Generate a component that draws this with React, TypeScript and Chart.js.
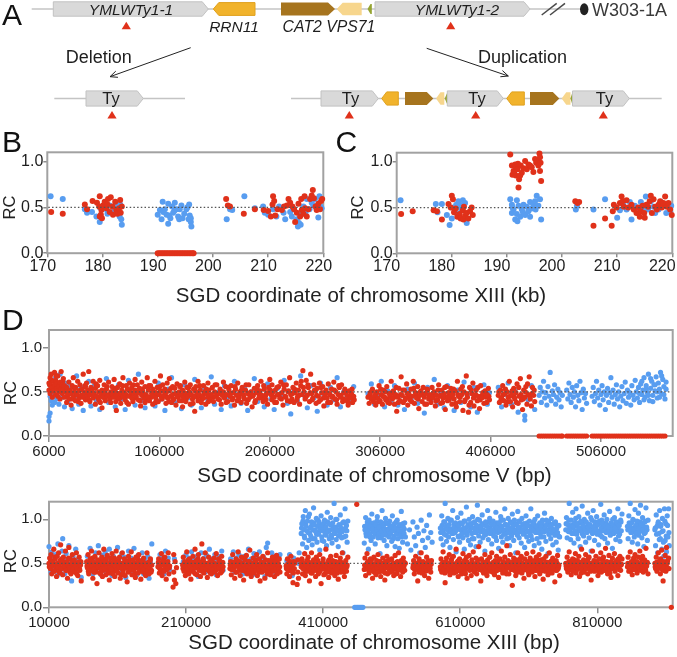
import React, { useEffect, useRef } from 'react';
import { Chart, registerables } from 'chart.js';
Chart.register(...registerables);

const FONT = "'Liberation Sans', Arial, Helvetica, sans-serif";
Chart.defaults.font.family = FONT;
const RED = '#e0311a';
const BLUE = '#589df0';

// ---------- Panel B / C : x in kb, y = RC ----------
const BC_X_TICKS = [170, 180, 190, 200, 210, 220];
const RC_TICKS = [0, 0.5, 1];
const B_BLUE = [170.6,.62,172.8,.59,176.8,.48,177.2,.44,178.1,.45,178.9,.40,179.5,.34,179.5,.50,180.1,.51,180.7,.48,181.3,.52,181.9,.45,182.5,.55,182.8,.50,183.1,.40,183.4,.37,183.5,.31,183.2,.53,182.2,.47,180.9,.43,
190.0,.42,190.4,.47,190.7,.37,190.9,.56,191.0,.45,191.3,.48,191.6,.42,191.9,.32,191.9,.54,192.3,.38,192.6,.51,192.8,.44,193.1,.55,193.4,.48,193.7,.40,193.9,.37,194.0,.48,194.3,.52,194.5,.38,194.8,.43,195.2,.48,195.6,.37,195.7,.53,195.8,.41,196.0,.38,196.0,.34,196.1,.29,195.4,.50,192.1,.41,193.0,.46,
202.5,.37,203.1,.48,203.5,.47,205.7,.62,
207.6,.49,209.1,.51,209.4,.44,210.0,.42,210.9,.48,211.5,.40,212.0,.51,212.8,.44,213.1,.37,214.0,.45,214.3,.40,214.7,.48,215.2,.37,215.4,.29,215.6,.33,215.9,.31,216.1,.43,216.4,.51,217.0,.59,217.5,.48,217.9,.55,218.5,.59,218.8,.48,219.1,.39,219.3,.62,219.5,.51,219.7,.49,216.8,.45,218.2,.52];
const B_RED = [170.7,.45,172.8,.43,
176.8,.53,177.2,.48,178.2,.57,179.0,.55,179.4,.51,179.5,.62,179.7,.42,179.8,.47,180.1,.52,180.4,.56,180.7,.49,181.0,.59,181.3,.45,181.5,.61,181.8,.51,182.3,.56,182.5,.47,182.7,.43,183.0,.49,183.2,.58,183.3,.44,183.5,.51,179.5,.40,181.9,.42,180.9,.53,179.9,.38,
202.4,.59,202.7,.52,203.1,.51,205.6,.43,
207.6,.48,209.2,.47,210.0,.46,210.5,.40,210.8,.53,210.9,.62,211.1,.57,211.3,.41,211.7,.48,212.5,.47,212.9,.51,213.4,.52,213.7,.59,214.0,.55,214.4,.51,214.7,.48,214.9,.34,215.2,.44,215.5,.54,215.8,.40,216.0,.59,216.1,.47,216.4,.43,216.6,.62,216.7,.49,217.0,.40,217.3,.48,217.6,.59,217.9,.63,218.1,.69,218.3,.60,218.6,.51,218.8,.47,219.1,.54,219.4,.48,219.6,.57,219.8,.59];
const B_RED_ZERO_X = [190.0,190.3,190.6,190.9,191.2,191.5,191.8,192.1,192.4,192.7,193.0,193.3,193.6,193.9,194.2,194.5,194.8,195.1,195.4,195.7,196.0,196.3,196.5];
const C_BLUE = [170.7,.58,177.1,.54,177.4,.45,178.2,.54,179.1,.42,179.6,.31,180.0,.38,180.3,.50,180.8,.53,181.2,.57,181.6,.49,181.7,.52,182.0,.58,182.4,.55,182.7,.33,181.0,.43,
190.6,.59,190.9,.53,190.9,.44,191.2,.48,191.5,.37,191.8,.43,191.8,.58,191.9,.35,192.1,.52,192.4,.40,192.7,.48,193.0,.53,193.3,.42,193.6,.51,193.9,.46,194.2,.40,194.2,.56,194.5,.49,194.8,.53,195.1,.57,195.2,.48,195.4,.63,195.7,.52,196.0,.59,196.2,.37,192.9,.45,191.0,.50,
202.5,.48,202.7,.52,205.7,.48,207.8,.59,
210.0,.39,210.5,.47,211.1,.53,211.7,.48,212.3,.56,212.6,.37,213.2,.52,213.8,.44,214.3,.56,214.7,.50,215.2,.62,215.6,.48,216.1,.57,216.6,.51,216.9,.44,217.5,.48,217.9,.56,218.4,.52,218.9,.44,219.3,.51,219.6,.46,219.8,.52];
const C_RED = [170.8,.43,172.9,.46,176.7,.47,177.3,.46,178.2,.37,179.4,.54,179.8,.50,180.0,.63,180.2,.59,180.4,.45,180.7,.49,181.0,.40,181.4,.43,181.6,.38,182.0,.47,182.1,.37,182.2,.51,182.4,.41,182.7,.44,183.0,.38,183.3,.46,183.6,.50,183.8,.42,
190.6,1.08,190.9,.96,191.0,.86,191.2,.90,191.5,.97,191.6,.85,191.7,.93,191.9,.92,192.1,.72,192.2,.81,192.4,.85,192.5,.96,192.7,.88,193.0,.93,193.3,1.01,193.6,.92,193.9,.97,194.2,.96,194.5,.94,194.8,.89,195.1,1.03,195.3,.99,195.5,1.01,195.7,.96,195.9,1.09,196.0,1.05,196.0,.90,196.1,.99,196.2,.79,191.3,.88,192.0,.98,
202.4,.57,202.8,.55,203.1,.56,205.7,.30,207.8,.38,209.0,.30,209.2,.46,209.4,.53,209.9,.50,210.5,.55,210.8,.62,211.0,.57,211.2,.51,211.7,.58,212.0,.50,212.6,.53,213.0,.48,213.5,.44,213.8,.50,214.1,.40,214.3,.46,214.6,.52,214.9,.44,215.0,.39,215.3,.53,215.6,.51,215.9,.57,216.1,.63,216.3,.44,216.6,.59,216.9,.51,217.2,.48,217.5,.53,217.8,.57,218.1,.50,218.4,.55,218.7,.62,219.0,.51,219.3,.55,219.6,.48,219.9,.42];

// ---------- Panel D (top) : chromosome V, pairs of (kb, RC x100) ----------
const D1_X_TICKS = [6000, 106000, 206000, 306000, 406000, 506000];
const D1_RED = [6,52,6,60,7,66,7,48,8,57,8,70,9,55,9,44,10,62,10,51,11,58,11,72,12,47,12,63,13,54,13,59,14,68,14,45,15,56,15,50,16,61,16,42,17,73,17,53,18,48,18,58,19,65,19,52,20,44,20,57,
21,50,22,38,22,55,23,47,24,61,24,42,25,52,26,35,26,48,27,57,28,44,28,66,29,50,30,40,30,55,31,47,32,62,33,43,33,51,34,58,35,37,35,46,36,53,37,70,37,45,38,49,39,41,39,56,40,60,41,44,41,52,42,73,43,47,43,39,44,55,45,50,46,43,46,62,47,48,48,36,48,54,49,45,50,57,51,41,51,50,52,63,53,46,54,32,54,52,55,44,56,58,57,48,57,40,58,53,59,45,60,61,
61,42,62,50,62,38,63,56,64,47,65,64,65,44,66,51,67,29,67,46,68,55,69,42,70,59,70,48,71,37,72,52,73,45,73,66,74,49,75,41,76,57,76,47,77,53,78,36,78,45,79,60,80,50,81,43,81,55,82,39,83,48,84,64,84,52,85,45,86,58,87,41,87,49,88,54,89,34,90,46,90,61,91,50,92,43,93,56,93,38,94,47,95,66,96,52,96,44,97,40,98,57,99,48,100,53,100,36,101,45,102,62,103,49,103,42,104,55,105,39,106,47,107,68,107,51,108,44,109,58,110,46,
111,53,112,37,112,49,113,60,114,43,115,51,115,65,116,45,117,38,118,56,118,47,119,42,120,54,121,35,121,48,122,59,123,44,124,50,124,40,125,57,126,46,127,33,127,52,128,44,129,61,130,48,130,39,131,55,132,45,133,50,134,36,134,58,135,47,136,42,137,53,138,28,138,45,139,56,140,49,141,40,141,62,142,47,143,52,144,38,145,45,146,57,146,43,147,50,148,36,149,48,150,60,150,44,151,52,152,41,153,47,154,55,155,39,156,50,157,45,158,58,159,42,160,48,
161,53,162,36,163,46,164,61,164,50,165,43,166,56,167,47,168,39,169,52,170,45,171,57,172,41,173,49,174,35,175,53,176,46,177,60,178,43,179,50,180,38,181,55,182,47,183,42,184,52,185,37,186,48,187,58,188,44,189,50,190,33,191,46,192,54,193,40,194,49,195,57,196,43,197,51,198,62,199,46,200,39,201,53,202,45,203,48,204,36,205,55,206,64,207,47,208,41,208,58,209,50,210,44,
211,52,212,38,213,47,214,56,215,43,216,61,217,49,218,35,219,53,220,45,221,58,222,40,223,51,224,66,225,47,226,42,227,55,228,38,229,49,230,60,231,44,232,52,233,36,234,57,235,47,236,74,237,50,238,42,239,63,240,46,241,55,242,39,243,70,244,48,245,43,246,58,247,51,248,37,249,54,250,45,251,60,252,41,253,49,254,56,255,34,256,47,257,52,258,43,259,59,260,48,261,38,262,53,263,45,264,61,265,42,266,50,267,36,268,47,269,55,270,44,271,58,272,39,273,49,274,53,275,41,276,46,277,35,278,51,279,43,280,48,281,38,282,45,
295,44,296,37,297,49,298,42,299,53,300,39,301,46,302,35,303,50,304,43,305,57,306,40,307,47,308,36,309,52,310,44,311,41,312,56,313,38,314,48,315,45,316,62,317,42,318,51,319,36,320,47,321,28,322,44,323,54,324,40,325,67,326,46,327,38,328,52,329,43,330,59,331,35,332,48,333,41,334,53,335,45,336,62,337,37,338,49,339,43,340,56,341,31,342,46,343,51,344,39,345,55,346,44,347,48,348,36,349,52,350,42,
351,47,352,38,353,55,354,44,355,50,356,34,357,46,358,41,359,58,360,45,361,37,362,52,363,43,364,48,365,30,366,56,367,40,368,49,369,44,370,54,371,36,372,47,373,42,374,51,375,33,376,62,377,45,378,39,379,53,380,47,381,29,382,50,383,41,384,68,385,44,386,27,387,55,388,38,389,48,390,60,391,34,392,46,393,52,394,40,395,45,396,31,397,57,398,43,399,49,400,37,401,51,402,44,403,47,404,54,405,41,
413,46,414,38,415,52,416,43,417,57,418,40,419,48,420,35,421,50,422,44,423,62,424,39,425,47,426,33,427,54,428,42,429,49,430,59,431,37,432,45,433,65,434,41,435,30,436,52,437,44,438,56,439,36,440,47,441,67,442,42,443,34,444,55,445,46,446,39];
const D1_RED_MORE = [6.5,58,8.5,63,10.5,55,12.5,68,14.5,52,16.5,57,18.5,62,20.5,51,22.5,45,24.5,50,26.5,42,28.5,55,30.5,47,32.5,39,34.5,52,36.5,44,38.5,57,40.5,48,42.5,41,44.5,53,46.5,46,48.5,59,50.5,44,52.5,38,54.5,49,56.5,43,58.5,56,60.5,47,62.5,44,64.5,54,66.5,39,68.5,48,70.5,43,72.5,57,74.5,45,76.5,38,78.5,52,80.5,46,82.5,58,84.5,43,86.5,49,88.5,40,90.5,53,92.5,46,94.5,41,96.5,57,98.5,44,100.5,50,102.5,38,104.5,47,106.5,56,108.5,42,110.5,51,112.5,44,114.5,39,116.5,54,118.5,41,120.5,48,122.5,45,124.5,56,126.5,40,128.5,49,130.5,43,132.5,55,134.5,47,136.5,37,138.5,51,140.5,44,142.5,57,144.5,42,146.5,48,148.5,53,150.5,39,152.5,46,154.5,44,156.5,58,158.5,47,160.5,41,162.5,50,164.5,45,166.5,38,168.5,55,170.5,48,172.5,43,174.5,56,176.5,40,178.5,47,180.5,52,182.5,44,184.5,58,186.5,41,188.5,49,190.5,45,192.5,38,194.5,53,196.5,47,198.5,43,200.5,57,202.5,41,204.5,49,206.5,52,208.5,45,210.5,38,212.5,55,214.5,47,216.5,42,218.5,58,220.5,44,222.5,50,224.5,39,226.5,48,228.5,53,230.5,41,232.5,46,234.5,62,236.5,55,238.5,44,240.5,58,242.5,49,244.5,41,246.5,52,248.5,46,250.5,39,252.5,55,254.5,43,256.5,50,258.5,38,260.5,47,262.5,44,264.5,52,266.5,41,268.5,57,270.5,46,272.5,42,274.5,50,276.5,39,278.5,45,280.5,53,282.5,41,
296.5,46,298.5,51,300.5,43,302.5,48,304.5,39,306.5,53,308.5,45,310.5,50,312.5,42,314.5,37,316.5,49,318.5,44,320.5,55,322.5,38,324.5,47,326.5,52,328.5,41,330.5,48,332.5,44,334.5,39,336.5,54,338.5,46,340.5,42,342.5,50,344.5,47,346.5,36,348.5,53,350.5,45,352.5,43,354.5,49,356.5,40,358.5,52,360.5,46,362.5,38,364.5,55,366.5,44,368.5,41,370.5,49,372.5,53,374.5,37,376.5,47,378.5,44,380.5,56,382.5,39,384.5,48,386.5,35,388.5,52,390.5,43,392.5,47,394.5,55,396.5,41,398.5,46,400.5,50,402.5,38,404.5,45,
413.5,50,415.5,42,417.5,47,419.5,53,421.5,39,423.5,45,425.5,51,427.5,44,429.5,38,431.5,55,433.5,47,435.5,42,437.5,50,439.5,59,441.5,45,443.5,48,445.5,52];
const D1_BLUE = [6,17,6,22,7,26,7,45,8,40,9,35,10,48,11,38,12,66,13,42,15,36,16,70,18,44,20,33,21,60,23,39,25,57,27,31,29,45,31,68,33,36,35,55,37,29,40,47,42,62,44,34,47,57,49,40,52,30,55,50,58,65,60,38,63,46,66,33,69,58,72,42,75,30,78,63,81,47,84,35,87,70,90,40,93,32,96,55,99,45,102,34,105,60,108,42,111,29,114,53,117,66,120,38,123,47,126,31,129,58,132,43,135,35,138,64,141,46,144,32,147,54,150,40,153,67,156,36,159,49,162,30,165,57,168,44,171,34,174,62,177,47,180,37,183,55,186,29,189,50,192,65,195,39,198,46,201,33,204,59,207,42,210,30,213,54,216,45,219,63,222,37,225,25,228,52,231,40,234,68,237,46,240,32,243,57,246,43,249,28,252,60,255,47,258,35,261,55,264,41,267,66,270,33,273,50,276,44,279,38,282,56,
295,48,298,59,301,36,304,45,307,62,310,33,313,51,316,40,319,57,322,35,325,46,328,30,331,53,334,42,337,60,340,37,343,48,346,26,349,55,352,41,355,64,358,36,361,49,364,32,367,57,370,43,373,29,376,52,379,38,382,61,385,46,388,33,391,55,394,27,397,44,400,58,403,36,405,49,
413,55,416,33,419,47,422,60,425,36,428,51,431,27,434,45,437,18,437,23,440,41,443,57,446,30,
450,46,451,55,452,38,453,50,454,62,455,43,456,49,457,35,458,56,459,45,460,72,461,40,462,51,463,47,464,58,465,36,466,44,467,53,468,41,469,49,470,33,471,46,
475,52,476,42,477,60,478,47,479,38,480,55,481,44,482,50,483,33,484,57,485,46,486,40,487,62,488,49,489,30,490,53,491,43,492,48,493,37,
498,45,499,55,500,39,501,48,502,62,503,43,504,52,505,35,506,47,507,57,508,41,509,50,510,30,511,46,512,54,513,38,514,49,515,66,516,44,517,52,518,36,519,47,520,58,521,42,522,50,523,33,524,45,525,56,526,40,527,48,528,61,529,37,530,52,531,44,532,49,533,35,534,57,535,46,536,41,537,63,538,50,539,43,540,55,541,38,542,59,543,47,544,52,545,66,546,44,547,57,548,49,549,70,550,40,551,54,552,62,553,46,554,58,555,51,556,67,557,43,558,60,559,53,560,72,561,48,562,64,563,56,564,42,565,61,
541,48,543,62,545,41,547,53,549,46,551,65,553,39,555,58,557,50,559,44,561,68,563,47,565,53];
const D1_RED_ZERO_KB = [450,452,454,456,458,460,462,464,466,468,470,471,475,477,479,481,483,485,487,489,491,493,498,500,502,504,506,508,510,512,514,516,518,520,522,524,526,528,530,532,534,536,538,540,542,544,546,548,550,552,554,556,558,560,562,564];

// ---------- Panel D (bottom) : chromosome XIII, pairs of (kb, RC x100) ----------
const D2_X_TICKS = [10000, 210000, 410000, 610000, 810000];
const D2_RED = [10,50,11,56,12,44,13,60,14,38,15,52,16,47,17,66,18,41,19,55,20,49,21,35,22,58,23,45,24,62,25,40,26,53,27,71,28,44,29,50,30,37,31,57,33,46,34,64,35,42,36,52,37,33,38,48,39,68,40,45,41,55,42,38,43,50,44,60,45,43,
47,54,48,40,49,47,50,62,51,44,52,36,53,51,54,57,55,42,56,48,57,30,
65,52,66,45,67,60,68,38,69,49,70,55,71,42,72,64,73,47,74,33,75,51,76,44,77,58,78,40,79,48,80,27,81,54,82,46,83,62,84,39,85,50,86,43,87,57,88,35,89,48,90,66,91,44,92,52,93,37,94,47,95,59,96,41,97,50,98,31,99,45,100,56,101,43,102,61,103,38,104,49,105,53,106,35,107,47,108,64,109,42,110,51,111,39,112,46,113,57,114,33,115,50,116,44,117,62,118,40,119,48,120,55,121,36,122,45,123,52,124,29,125,47,126,58,127,41,128,50,129,44,130,63,131,37,132,48,133,54,134,42,135,46,136,34,137,57,138,45,139,51,140,39,141,60,142,43,143,49,144,32,145,53,146,46,147,41,148,56,149,44,150,50,151,36,152,47,153,62,154,42,155,51,156,38,157,45,158,55,159,40,160,48,
169,46,170,55,171,39,172,50,173,43,174,61,175,36,176,48,177,53,178,41,179,57,180,45,181,32,182,50,183,44,184,62,185,38,186,47,
191,23,192,40,192,60,193,31,194,52,195,27,196,45,
205,48,206,57,207,41,208,52,209,36,210,46,211,63,212,44,213,50,214,38,215,55,216,47,217,32,218,51,219,43,220,58,221,40,222,49,223,66,224,45,225,53,226,37,227,48,228,60,229,42,230,51,231,35,232,46,233,72,234,44,235,55,236,39,237,49,238,62,239,43,240,50,241,34,242,47,243,57,244,41,245,52,246,45,247,38,248,54,249,43,250,48,
251,56,252,40,253,47,254,61,255,44,256,36,257,50,258,45,259,53,260,39,261,48,262,58,263,42,264,46,
274,44,275,52,276,37,277,48,278,60,279,43,280,51,281,33,282,47,283,55,284,40,285,49,286,63,287,45,288,52,289,36,290,46,291,57,292,42,293,50,294,31,295,48,296,54,297,44,298,59,299,38,300,47,301,52,302,41,303,65,304,45,305,35,306,50,307,43,308,56,309,39,310,47,311,53,312,42,313,60,314,36,315,49,316,44,317,55,318,30,319,47,320,51,321,40,322,58,323,45,324,49,325,33,326,54,327,43,328,47,329,62,330,40,331,50,332,45,333,37,334,53,335,46,336,57,337,41,338,49,339,35,340,52,341,44,342,59,343,38,344,48,345,43,346,55,347,40,
356,47,357,38,358,55,359,42,360,50,361,35,362,46,363,58,364,41,365,49,366,28,367,52,368,44,
372,26,373,40,373,54,374,33,
378,46,379,55,380,38,381,50,382,44,383,61,384,36,385,48,386,53,387,41,388,57,389,45,390,30,391,50,392,43,393,62,394,39,395,47,396,54,397,42,398,49,399,35,400,57,401,44,402,51,403,38,404,46,405,60,406,42,407,27,408,50,409,45,410,55,411,37,412,48,413,43,414,66,415,47,416,40,417,52,418,34,419,49,420,44,421,58,422,39,423,47,424,53,425,41,426,50,427,36,428,45,429,59,430,43,431,48,432,32,433,51,434,46,435,56,436,40,437,47,438,62,439,42,440,50,441,35,442,45,443,53,444,41,445,48,446,57,
459,117,
470,43,471,56,472,36,473,48,474,61,475,44,476,52,477,39,478,47,479,55,480,42,481,50,482,33,483,46,484,57,485,43,486,49,487,37,488,53,489,45,490,60,491,40,492,48,493,52,494,35,495,46,496,44,497,56,498,41,499,49,500,31,501,52,502,45,503,58,504,38,505,47,506,43,507,54,508,40,
509,48,510,55,511,42,512,50,513,36,514,46,515,59,516,44,517,51,518,39,519,47,520,62,521,43,522,49,523,35,524,53,525,45,526,40,527,56,528,47,529,42,530,50,
541,45,542,53,543,38,544,48,545,58,546,43,547,50,548,30,549,46,550,55,551,41,552,48,553,62,554,39,555,47,556,52,557,44,558,36,559,50,560,45,561,57,562,42,563,48,564,33,565,51,566,44,567,40,568,53,
581,46,582,55,583,40,584,49,585,63,586,43,587,51,588,28,589,47,590,56,591,41,592,50,593,44,594,60,595,37,596,48,597,53,598,42,599,46,600,58,601,39,602,49,603,45,604,66,605,41,606,52,607,35,608,47,609,55,610,43,611,50,612,38,613,48,614,61,615,44,616,53,617,40,618,47,619,57,620,33,621,50,622,45,623,59,624,42,625,48,626,36,627,54,628,46,629,63,630,41,631,49,632,44,633,56,634,38,635,51,636,46,637,69,638,43,639,48,640,30,641,55,642,45,643,52,644,39,645,47,646,60,647,43,648,50,649,36,650,54,651,46,652,41,653,57,654,44,655,49,656,62,657,40,658,51,659,45,660,37,661,53,662,47,663,58,664,42,665,50,666,34,667,48,668,55,669,43,670,64,671,46,672,39,673,52,674,44,675,57,676,41,677,49,678,70,679,45,680,53,681,38,682,48,683,60,684,43,685,51,686,25,687,47,688,56,689,42,690,50,691,36,692,54,693,45,694,62,695,40,696,48,697,53,698,44,699,58,700,39,701,50,702,46,703,33,704,55,705,43,706,49,707,61,708,42,709,52,710,37,711,47,712,56,713,44,714,50,715,40,716,63,717,45,718,53,719,35,720,48,
721,57,722,42,723,50,724,45,725,60,726,38,727,49,728,54,729,43,730,47,731,32,732,55,733,46,734,41,735,58,736,44,737,51,738,37,739,48,740,62,741,43,742,52,743,46,744,39,745,56,746,45,747,50,748,29,749,47,750,53,751,42,752,59,753,44,754,48,755,36,
764,50,765,44,766,57,767,40,768,49,769,63,770,43,771,52,772,37,773,47,774,55,775,42,776,50,777,46,778,61,779,39,780,48,781,53,782,44,783,58,784,35,785,51,786,45,787,66,788,42,789,49,790,54,791,40,792,47,793,60,794,44,795,52,796,38,797,48,798,57,799,43,800,50,801,31,802,46,803,64,804,45,805,53,806,41,807,49,808,58,809,43,810,51,811,36,812,47,813,55,814,44,815,62,816,40,817,50,818,46,819,57,820,42,821,48,822,67,823,45,824,52,825,38,826,49,827,59,828,43,829,51,830,34,831,47,832,56,833,44,834,50,835,61,836,41,837,48,838,53,839,45,840,36,841,52,842,47,843,58,844,42,845,49,846,55,
854,46,855,57,856,41,857,50,858,63,859,44,860,52,861,37,862,48,863,56,864,43,865,60,866,47,867,52,868,39,869,48,870,57,871,45,872,64,873,42,874,50,875,46,876,58,877,40,878,49,879,54,880,44,881,67,882,47,883,51,884,38,
894,50,895,44,896,57,897,41,898,49,899,62,900,45,901,53,902,38,903,48,904,65,905,43,906,30,907,52,908,46,909,59,910,41,911,68,912,50,913,44,914,56,
918,0];
const D2_RED_MORE = [10.5,46,12.5,53,14.5,49,16.5,41,18.5,57,20.5,44,22.5,50,24.5,47,26.5,39,28.5,55,30.5,45,32.5,51,34.5,42,36.5,48,38.5,56,40.5,40,42.5,47,44.5,52,46.5,45,48.5,50,50.5,38,52.5,46,54.5,44,56.5,52,
65.5,47,67.5,41,69.5,52,71.5,45,73.5,56,75.5,40,77.5,48,79.5,44,81.5,50,83.5,46,85.5,38,87.5,53,89.5,42,91.5,48,93.5,55,95.5,44,97.5,39,99.5,51,101.5,47,103.5,43,105.5,56,107.5,41,109.5,48,111.5,53,113.5,45,115.5,37,117.5,50,119.5,44,121.5,52,123.5,46,125.5,40,127.5,54,129.5,48,131.5,43,133.5,50,135.5,38,137.5,47,139.5,55,141.5,45,143.5,41,145.5,49,147.5,52,149.5,39,151.5,46,153.5,50,155.5,44,157.5,53,159.5,42,
169.5,51,171.5,44,173.5,49,175.5,41,177.5,56,179.5,47,181.5,43,183.5,52,185.5,45,
205.5,44,207.5,50,209.5,47,211.5,40,213.5,54,215.5,46,217.5,42,219.5,51,221.5,45,223.5,38,225.5,49,227.5,55,229.5,44,231.5,48,233.5,41,235.5,52,237.5,46,239.5,43,241.5,50,243.5,47,245.5,39,247.5,53,249.5,45,251.5,50,253.5,42,255.5,48,257.5,55,259.5,44,261.5,40,263.5,51,
274.5,48,276.5,43,278.5,51,280.5,46,282.5,40,284.5,53,286.5,47,288.5,42,290.5,50,292.5,45,294.5,56,296.5,41,298.5,48,300.5,44,302.5,52,304.5,39,306.5,47,308.5,43,310.5,50,312.5,54,314.5,45,316.5,40,318.5,48,320.5,44,322.5,51,324.5,42,326.5,47,328.5,38,330.5,53,332.5,46,334.5,41,336.5,49,338.5,45,340.5,55,342.5,43,344.5,50,346.5,46,
356.5,44,358.5,49,360.5,42,362.5,52,364.5,45,366.5,39,368.5,50,
378.5,50,380.5,44,382.5,48,384.5,41,386.5,45,388.5,52,390.5,46,392.5,39,394.5,51,396.5,44,398.5,47,400.5,42,402.5,53,404.5,40,406.5,48,408.5,45,410.5,50,412.5,38,414.5,46,416.5,43,418.5,54,420.5,47,422.5,41,424.5,49,426.5,44,428.5,52,430.5,39,432.5,47,434.5,43,436.5,51,438.5,45,440.5,40,442.5,48,444.5,46,
470.5,48,472.5,44,474.5,51,476.5,42,478.5,47,480.5,54,482.5,45,484.5,40,486.5,49,488.5,44,490.5,52,492.5,46,494.5,41,496.5,50,498.5,45,500.5,39,502.5,48,504.5,53,506.5,44,508.5,47,510.5,41,512.5,50,514.5,45,516.5,38,518.5,52,520.5,46,522.5,43,524.5,49,526.5,44,528.5,51,
541.5,48,543.5,43,545.5,50,547.5,45,549.5,40,551.5,52,553.5,46,555.5,43,557.5,49,559.5,41,561.5,47,563.5,53,565.5,45,567.5,49,
581.5,43,583.5,50,585.5,46,587.5,39,589.5,52,591.5,45,593.5,48,595.5,42,597.5,55,599.5,44,601.5,49,603.5,40,605.5,47,607.5,53,609.5,45,611.5,41,613.5,50,615.5,46,617.5,38,619.5,52,621.5,44,623.5,48,625.5,43,627.5,51,629.5,45,631.5,40,633.5,49,635.5,54,637.5,44,639.5,47,641.5,42,643.5,50,645.5,45,647.5,39,649.5,52,651.5,47,653.5,43,655.5,49,657.5,45,659.5,51,661.5,41,663.5,46,665.5,53,667.5,44,669.5,48,671.5,42,673.5,50,675.5,46,677.5,38,679.5,51,681.5,45,683.5,47,685.5,43,687.5,52,689.5,45,691.5,40,693.5,49,695.5,44,697.5,55,699.5,46,701.5,42,703.5,48,705.5,45,707.5,51,709.5,40,711.5,47,713.5,53,715.5,44,717.5,49,719.5,42,721.5,47,723.5,54,725.5,45,727.5,41,729.5,50,731.5,46,733.5,43,735.5,51,737.5,45,739.5,39,741.5,48,743.5,53,745.5,44,747.5,47,749.5,42,751.5,50,753.5,46,
764.5,47,766.5,43,768.5,52,770.5,45,772.5,49,774.5,41,776.5,54,778.5,46,780.5,43,782.5,50,784.5,45,786.5,39,788.5,52,790.5,47,792.5,44,794.5,49,796.5,55,798.5,45,800.5,41,802.5,50,804.5,47,806.5,43,808.5,52,810.5,46,812.5,40,814.5,49,816.5,45,818.5,53,820.5,47,822.5,42,824.5,50,826.5,45,828.5,39,830.5,52,832.5,47,834.5,44,836.5,50,838.5,46,840.5,55,842.5,43,844.5,48,
854.5,50,856.5,45,858.5,41,860.5,49,862.5,53,864.5,46,866.5,43,868.5,51,870.5,45,872.5,49,874.5,55,876.5,44,878.5,47,880.5,42,882.5,50,
894.5,46,896.5,51,898.5,44,900.5,49,902.5,55,904.5,45,906.5,42,908.5,50,910.5,47,912.5,53,914.5,44];
const D2_BLUE = [10,69,11,48,12,57,13,40,14,63,16,52,18,44,20,60,22,36,23,72,25,50,27,43,29,64,30,78,31,55,33,38,35,61,37,47,39,70,41,53,43,30,45,58,47,46,49,66,51,41,53,55,55,49,57,34,66,58,68,42,70,67,72,48,74,38,76,55,78,62,80,44,82,70,84,51,86,37,88,59,90,45,92,63,94,40,96,54,98,66,100,47,102,36,104,58,106,50,108,43,110,68,112,55,114,39,116,61,118,48,120,57,122,34,124,50,126,64,128,45,130,56,132,41,134,67,136,49,138,37,140,59,142,52,144,44,146,62,148,38,150,55,152,47,154,58,156,33,158,51,160,72,
170,49,172,60,174,42,176,55,178,38,180,64,182,47,184,56,186,43,193,55,
206,52,208,43,210,60,212,38,214,56,216,46,218,63,220,41,222,54,224,49,226,58,228,35,230,52,232,62,234,45,236,56,238,40,240,59,242,50,244,66,246,43,248,55,250,48,252,60,254,37,256,53,258,58,260,46,262,64,264,42,
275,55,277,47,279,63,281,40,283,56,285,49,287,60,289,44,291,52,293,38,295,58,297,47,299,53,301,66,303,42,305,55,307,37,309,61,311,48,313,56,315,43,317,63,319,40,321,52,323,57,325,35,327,68,329,73,331,49,333,43,335,62,337,51,339,58,341,38,343,55,345,46,347,60,
357,53,359,44,361,60,363,49,365,36,367,56,374,50,375,62,
378,84,379,95,380,72,381,103,382,88,383,79,384,110,385,92,386,68,387,98,388,85,389,76,390,106,391,90,392,81,393,97,394,71,395,88,396,113,397,94,398,78,399,86,400,101,401,74,402,92,403,83,404,97,405,65,406,89,407,104,408,80,409,93,410,87,411,75,412,99,413,84,414,91,415,70,416,108,417,86,418,95,419,78,420,88,421,102,422,82,423,73,424,96,425,89,426,118,427,84,428,91,429,77,430,100,431,87,432,69,433,94,434,83,435,105,436,90,437,79,438,86,439,62,440,97,441,88,442,112,443,81,444,93,445,74,446,98,
470,73,471,88,472,102,473,81,474,93,475,87,476,66,477,99,478,83,479,92,480,76,481,106,482,89,483,80,484,96,485,85,486,72,487,94,488,88,489,103,490,79,491,91,492,84,493,61,494,97,495,86,496,110,497,82,498,93,499,76,500,89,501,101,502,85,503,70,504,95,505,88,506,80,507,98,508,84,
509,92,510,75,511,104,512,87,513,81,514,95,515,69,516,90,517,83,518,99,519,78,520,88,521,67,522,94,523,82,524,109,525,86,526,74,527,91,528,84,529,96,530,80,
533,72,536,88,538,65,541,97,543,80,545,70,547,91,549,84,551,62,553,99,555,76,557,87,559,68,561,93,563,79,565,105,567,85,569,74,
581,90,582,78,583,104,584,86,585,71,586,97,587,83,588,118,589,92,590,75,591,88,592,101,593,80,594,94,595,68,596,87,597,99,598,84,599,110,600,77,601,91,602,85,603,96,604,63,605,89,606,102,607,81,608,93,609,74,610,88,611,107,612,83,613,95,614,79,615,90,616,66,617,98,618,86,619,114,620,82,621,92,622,76,623,100,624,87,625,71,626,95,627,84,628,103,629,90,630,78,631,97,632,85,633,69,634,93,635,116,636,88,637,81,638,99,639,74,640,91,641,86,642,105,643,79,644,94,645,87,646,64,647,97,648,83,649,92,650,110,651,77,652,89,653,101,654,84,655,95,656,72,657,88,658,98,659,81,660,93,661,86,662,108,663,76,664,90,665,85,666,67,667,96,668,88,669,103,670,80,671,92,672,74,673,99,674,87,675,112,676,83,677,94,678,78,679,89,680,101,681,85,682,70,683,96,684,88,685,81,686,106,687,92,688,76,689,99,690,87,691,62,692,94,693,84,694,109,695,90,696,79,697,97,698,86,699,73,700,101,701,88,702,83,703,95,704,68,705,91,706,104,707,80,708,93,709,86,710,75,711,98,712,84,713,112,714,89,715,77,716,95,717,87,718,70,719,100,720,85,
721,92,722,78,723,104,724,88,725,73,726,96,727,84,728,91,729,66,730,99,731,86,732,80,733,107,734,90,735,75,736,94,737,87,738,61,739,98,740,83,741,92,742,78,743,101,744,86,745,71,746,95,747,88,748,82,749,97,750,74,751,90,752,85,753,65,754,93,755,80,
764,88,765,102,766,79,767,94,768,86,769,118,770,91,771,77,772,99,773,84,774,108,775,92,776,73,777,96,778,87,779,112,780,83,781,95,782,78,783,103,784,90,785,69,786,98,787,86,788,115,789,93,790,81,791,100,792,88,793,74,794,97,795,85,796,107,797,91,798,79,799,94,800,87,801,64,802,99,803,84,804,110,805,92,806,76,807,96,808,88,809,103,810,83,811,94,812,71,813,98,814,86,815,117,816,90,817,80,818,95,819,87,820,105,821,78,822,93,823,85,824,100,825,73,826,91,827,86,828,109,829,82,830,96,831,88,832,67,833,94,834,84,835,102,836,90,837,77,838,97,839,86,840,112,841,81,842,93,843,75,844,99,845,87,846,106,
854,92,855,78,856,104,857,88,858,118,859,85,860,96,861,74,862,100,863,89,864,80,865,111,866,93,867,84,868,98,869,72,870,107,871,90,872,86,873,116,874,94,875,79,876,102,877,88,878,69,879,97,880,85,881,113,882,91,883,76,884,99,
894,88,895,70,896,105,897,92,898,62,899,97,900,84,901,110,902,78,903,94,904,66,905,101,906,87,907,58,908,112,909,76,910,95,911,63,912,104,913,80,914,112,915,70];
const D2_BLUE_MORE = [378.5,90,380.5,98,382.5,81,384.5,94,386.5,87,388.5,103,390.5,84,392.5,92,394.5,78,396.5,96,398.5,88,400.5,83,402.5,99,404.5,86,406.5,93,408.5,76,410.5,95,412.5,89,414.5,82,416.5,97,418.5,87,420.5,94,422.5,79,424.5,91,426.5,85,428.5,100,430.5,88,432.5,81,434.5,93,436.5,86,438.5,96,440.5,80,442.5,90,444.5,87,
470.5,92,472.5,84,474.5,97,476.5,88,478.5,80,480.5,95,482.5,86,484.5,91,486.5,83,488.5,98,490.5,87,492.5,93,494.5,79,496.5,90,498.5,85,500.5,96,502.5,82,504.5,89,506.5,94,508.5,86,510.5,91,512.5,78,514.5,88,516.5,97,518.5,84,520.5,92,522.5,87,524.5,80,526.5,95,528.5,89,
581.5,85,583.5,93,585.5,88,587.5,97,589.5,82,591.5,91,593.5,86,595.5,99,597.5,89,599.5,84,601.5,95,603.5,87,605.5,92,607.5,80,609.5,96,611.5,88,613.5,85,615.5,98,617.5,90,619.5,83,621.5,94,623.5,87,625.5,91,627.5,78,629.5,96,631.5,89,633.5,85,635.5,100,637.5,92,639.5,86,641.5,95,643.5,88,645.5,82,647.5,93,649.5,87,651.5,97,653.5,90,655.5,84,657.5,94,659.5,88,661.5,80,663.5,96,665.5,91,667.5,86,669.5,99,671.5,89,673.5,83,675.5,94,677.5,88,679.5,92,681.5,79,683.5,97,685.5,90,687.5,85,689.5,95,691.5,88,693.5,82,695.5,98,697.5,91,699.5,87,701.5,94,703.5,84,705.5,89,707.5,96,709.5,86,711.5,92,713.5,81,715.5,90,717.5,97,719.5,88,721.5,85,723.5,93,725.5,89,727.5,80,729.5,95,731.5,91,733.5,86,735.5,99,737.5,88,739.5,83,741.5,94,743.5,90,745.5,85,747.5,96,749.5,87,751.5,92,753.5,81,
764.5,95,766.5,88,768.5,99,770.5,86,772.5,93,774.5,90,776.5,84,778.5,101,780.5,92,782.5,87,784.5,96,786.5,89,788.5,83,790.5,98,792.5,91,794.5,86,796.5,94,798.5,88,800.5,102,802.5,90,804.5,85,806.5,97,808.5,92,810.5,87,812.5,95,814.5,82,816.5,99,818.5,91,820.5,88,822.5,96,824.5,86,826.5,93,828.5,90,830.5,84,832.5,100,834.5,92,836.5,87,838.5,95,840.5,89,842.5,83,844.5,97,
854.5,88,856.5,96,858.5,91,860.5,85,862.5,99,864.5,90,866.5,86,868.5,94,870.5,82,872.5,97,874.5,89,876.5,93,878.5,84,880.5,98,882.5,88,
894.5,90,896.5,83,898.5,95,900.5,77,902.5,92,904.5,86,906.5,74,908.5,98,910.5,81,912.5,93,914.5,85];
const D2_BLUE_ZERO_KB = [456,458,460,462,464,466,468];

// ---------- helpers ----------
type Pt = { x: number; y: number };
function pairs(flat: number[], xMul: number, yMul: number): Pt[] {
  const out: Pt[] = [];
  for (let i = 0; i + 1 < flat.length; i += 2) out.push({ x: flat[i] * xMul, y: flat[i + 1] * yMul });
  return out;
}
function zeros(xs: number[], xMul: number): Pt[] {
  return xs.map((x) => ({ x: x * xMul, y: 0 }));
}

type Series = { data: Pt[]; color: string; r: number };
type PanelProps = {
  left: number; top: number; width: number; height: number;
  area: { l: number; t: number; r: number; b: number };
  xMin: number; xMax: number; xTicks: number[]; yMax: number;
  tickSize: number; tickLen: number; xPad: number; yPad: number; labelOffset: number;
  series: Series[];
};

function ScatterPanel(p: PanelProps) {
  const ref = useRef<HTMLCanvasElement>(null);
  useEffect(() => {
    const frame = {
      id: 'frame',
      beforeDatasetsDraw(chart: any) {
        const { ctx, chartArea: a } = chart;
        ctx.save();
        ctx.strokeStyle = '#a2a2a2';
        ctx.lineWidth = 2;
        ctx.strokeRect(a.left, a.top, a.right - a.left, a.bottom - a.top);
        ctx.restore();
      },
      afterDatasetsDraw(chart: any) {
        const { ctx, chartArea: a } = chart;
        const y = chart.scales.y.getPixelForValue(0.5);
        ctx.save();
        ctx.strokeStyle = '#555';
        ctx.lineWidth = 1.3;
        ctx.setLineDash([1.5, 2.2]);
        ctx.beginPath();
        ctx.moveTo(a.left + 1, y);
        ctx.lineTo(a.right - 1, y);
        ctx.stroke();
        ctx.restore();
      },
    };
    const chart = new Chart(ref.current as HTMLCanvasElement, {
      type: 'scatter',
      data: {
        datasets: p.series.map((s) => ({
          data: s.data,
          backgroundColor: s.color,
          borderWidth: 0,
          pointRadius: s.r,
          pointHoverRadius: s.r,
          clip: false as any,
        })),
      },
      options: {
        responsive: false,
        animation: false,
        devicePixelRatio: 1,
        events: [],
        layout: { padding: { left: 0, top: p.area.t, right: p.width - p.area.r, bottom: 0 } },
        plugins: { legend: { display: false }, tooltip: { enabled: false } },
        scales: {
          x: {
            type: 'linear', min: p.xMin, max: p.xMax,
            afterBuildTicks: (s: any) => { s.ticks = p.xTicks.map((v) => ({ value: v })); },
            afterFit: (s: any) => { s.height = p.height - p.area.b; },
            grid: { display: true, drawOnChartArea: false, drawTicks: true, tickLength: p.tickLen, color: '#8d8d8d', lineWidth: 1.5 },
            border: { display: false },
            ticks: { autoSkip: false, maxRotation: 0, minRotation: 0, padding: p.xPad, labelOffset: p.labelOffset, color: '#1e1e1e', font: { size: p.tickSize, family: FONT }, callback: (v: any) => String(v) },
          },
          y: {
            type: 'linear', min: 0, max: p.yMax,
            afterBuildTicks: (s: any) => { s.ticks = RC_TICKS.map((v) => ({ value: v })); },
            afterFit: (s: any) => { s.width = p.area.l; },
            grid: { display: true, drawOnChartArea: false, drawTicks: true, tickLength: p.tickLen, color: '#8d8d8d', lineWidth: 1.5 },
            border: { display: false },
            ticks: { autoSkip: false, padding: p.yPad, color: '#1e1e1e', font: { size: p.tickSize, family: FONT }, callback: (v: any) => Number(v).toFixed(1) },
          },
        },
      } as any,
      plugins: [frame],
    });
    return () => chart.destroy();
  }, []);
  return (
    <canvas ref={ref} width={p.width} height={p.height}
      style={{ position: 'absolute', left: p.left, top: p.top, width: p.width, height: p.height, display: 'block' }} />
  );
}

// ---------- Panel A diagram helpers ----------
const rArrow = (x1: number, x2: number, c: number, h: number, t: number) =>
  `${x1},${c - h} ${x2 - t},${c - h} ${x2},${c} ${x2 - t},${c + h} ${x1},${c + h}`;
const lArrow = (x1: number, x2: number, c: number, h: number, t: number) =>
  `${x1},${c} ${x1 + t},${c - h} ${x2},${c - h} ${x2},${c + h} ${x1 + t},${c + h}`;
const tri = (x: number, y: number) => `${x},${y} ${x - 4.6},${y + 7.5} ${x + 4.6},${y + 7.5}`;
function headPath(x1: number, y1: number, x2: number, y2: number) {
  const a = Math.atan2(y2 - y1, x2 - x1);
  const L = 8, w = 0.42;
  const p1 = [x2 - L * Math.cos(a - w), y2 - L * Math.sin(a - w)];
  const p2 = [x2 - L * Math.cos(a + w), y2 - L * Math.sin(a + w)];
  return `M${p1[0]},${p1[1]} L${x2},${y2} L${p2[0]},${p2[1]}`;
}

const GRAY_F = '#d9d9d9', GRAY_S = '#c2c2c2';
const ORANGE = '#f1b32c', ORANGE_S = '#e0a21f';
const BROWN = '#a6741e';
const LIGHT = '#f7d68d';
const OLIVE = '#95a431';

function DiagramAndLabels() {
  const c1 = 9, c2 = 98.5;
  return (
    <svg width={677} height={657} style={{ position: 'absolute', left: 0, top: 0, pointerEvents: 'none' }}
      fontFamily={FONT}>
      <line x1={31.7} y1={c1} x2={581} y2={c1} stroke="#c4c4c4" strokeWidth={1.6} />
      <polygon points={rArrow(53.3, 208.3, c1, 7.2, 6)} fill={GRAY_F} stroke={GRAY_S} strokeWidth={1} />
      <polygon points={lArrow(213.3, 255, c1, 6.4, 5.5)} fill={ORANGE} stroke={ORANGE_S} strokeWidth={1} />
      <polygon points={rArrow(281, 335, c1, 6.6, 7)} fill={BROWN} />
      <polygon points={lArrow(336.7, 361.7, c1, 6.3, 6)} fill={LIGHT} />
      <polygon points={lArrow(367.5, 371.8, c1, 5, 3)} fill={OLIVE} />
      <polygon points={rArrow(375, 530, c1, 7.2, 6)} fill={GRAY_F} stroke={GRAY_S} strokeWidth={1} />
      <line x1={541.7} y1={15} x2={556.7} y2={3.3} stroke="#4a4a4a" strokeWidth={1.5} />
      <line x1={550} y1={15} x2={565} y2={3.3} stroke="#4a4a4a" strokeWidth={1.5} />
      <ellipse cx={584.2} cy={9.2} rx={4.2} ry={6} fill="#222" />
      <text x={131} y={15} fontSize={15.5} fontStyle="italic" textAnchor="middle" fill="#1e1e1e">YMLWTy1-1</text>
      <text x={457} y={15} fontSize={15.5} fontStyle="italic" textAnchor="middle" fill="#1e1e1e">YMLWTy1-2</text>
      <text x={234} y={32.3} fontSize={15.5} fontStyle="italic" textAnchor="middle" fill="#1e1e1e">RRN11</text>
      <text x={329} y={32.3} fontSize={15.8} fontStyle="italic" textAnchor="middle" fill="#1e1e1e">CAT2 VPS71</text>
      <text x={592} y={16.3} fontSize={18} fill="#3a3a3a">W303-1A</text>
      <polygon points={tri(126.3, 21.7)} fill={RED} />
      <polygon points={tri(450.7, 21.7)} fill={RED} />

      <line x1={190.7} y1={47.7} x2={110} y2={76.7} stroke="#222" strokeWidth={1} />
      <path d={headPath(190.7, 47.7, 110, 76.7)} stroke="#222" strokeWidth={1} fill="none" />
      <line x1={426.7} y1={48.3} x2={508.3} y2={76} stroke="#222" strokeWidth={1} />
      <path d={headPath(426.7, 48.3, 508.3, 76)} stroke="#222" strokeWidth={1} fill="none" />
      <text x={65.7} y={62.7} fontSize={18} fill="#1e1e1e">Deletion</text>
      <text x={478} y={62.7} fontSize={18} fill="#1e1e1e">Duplication</text>

      <line x1={54.3} y1={c2} x2={185} y2={c2} stroke="#c4c4c4" strokeWidth={1.6} />
      <polygon points={rArrow(86, 143.3, c2, 7.6, 6)} fill={GRAY_F} stroke={GRAY_S} strokeWidth={1} />
      <text x={111} y={103.5} fontSize={16.5} textAnchor="middle" fill="#1e1e1e">Ty</text>
      <polygon points={tri(112, 111)} fill={RED} />

      <line x1={291} y1={c2} x2={661.7} y2={c2} stroke="#c4c4c4" strokeWidth={1.6} />
      <polygon points={rArrow(321, 378.3, c2, 7.6, 6)} fill={GRAY_F} stroke={GRAY_S} strokeWidth={1} />
      <polygon points={lArrow(381.7, 398.3, c2, 6.6, 5)} fill={ORANGE} stroke={ORANGE_S} strokeWidth={1} />
      <polygon points={rArrow(405, 433.3, c2, 6.6, 6.5)} fill={BROWN} />
      <polygon points={lArrow(436, 444.3, c2, 6.2, 4.5)} fill={LIGHT} />
      <polygon points={lArrow(444.8, 447.3, c2, 5, 2)} fill={OLIVE} />
      <polygon points={rArrow(447.3, 503.3, c2, 7.6, 6)} fill={GRAY_F} stroke={GRAY_S} strokeWidth={1} />
      <polygon points={lArrow(506.7, 524.3, c2, 6.6, 5)} fill={ORANGE} stroke={ORANGE_S} strokeWidth={1} />
      <polygon points={rArrow(530, 559.3, c2, 6.6, 6.5)} fill={BROWN} />
      <polygon points={lArrow(561.7, 570.5, c2, 6.2, 4.5)} fill={LIGHT} />
      <polygon points={lArrow(570.5, 572.5, c2, 5, 1.5)} fill={OLIVE} />
      <polygon points={rArrow(572.5, 629.3, c2, 7.6, 6)} fill={GRAY_F} stroke={GRAY_S} strokeWidth={1} />
      <text x={350.5} y={103.5} fontSize={16.5} textAnchor="middle" fill="#1e1e1e">Ty</text>
      <text x={477} y={103.5} fontSize={16.5} textAnchor="middle" fill="#1e1e1e">Ty</text>
      <text x={604.5} y={103.5} fontSize={16.5} textAnchor="middle" fill="#1e1e1e">Ty</text>
      <polygon points={tri(349.3, 111)} fill={RED} />
      <polygon points={tri(475.7, 111)} fill={RED} />
      <polygon points={tri(603.3, 111)} fill={RED} />

      <text x={2} y={25} fontSize={30} fill="#111">A</text>
      <text x={2} y={151.7} fontSize={30} fill="#111">B</text>
      <text x={335.5} y={152} fontSize={30} fill="#111">C</text>
      <text x={2} y={330} fontSize={30} fill="#111">D</text>

      <text x={361} y={301.7} fontSize={20.5} textAnchor="middle" fill="#222">SGD coordinate of chromosome XIII (kb)</text>
      <text x={374.5} y={482} fontSize={20.5} textAnchor="middle" fill="#222">SGD coordinate of chromosome V (bp)</text>
      <text x={374} y={649} fontSize={20.5} textAnchor="middle" fill="#222">SGD coordinate of chromosome XIII (bp)</text>
      <text transform="translate(15,207.5) rotate(-90)" fontSize={16.5} textAnchor="middle" fill="#222">RC</text>
      <text transform="translate(362.7,207.5) rotate(-90)" fontSize={16.5} textAnchor="middle" fill="#222">RC</text>
      <text transform="translate(16,393) rotate(-90)" fontSize={16.5} textAnchor="middle" fill="#222">RC</text>
      <text transform="translate(16,561) rotate(-90)" fontSize={16.5} textAnchor="middle" fill="#222">RC</text>
    </svg>
  );
}

export default function App() {
  const bcBase = { height: 145, xMin: 170, xMax: 220, xTicks: BC_X_TICKS, yMax: 1.1, tickSize: 16, tickLen: 4, xPad: 0, yPad: 0 };
  const DR = 2.6;
  return (
    <div style={{ position: 'absolute', left: 0, top: 0, width: 677, height: 657, overflow: 'hidden', background: '#fff' }}>
      <ScatterPanel {...bcBase} left={0} top={140} width={345} labelOffset={-4.5}
        area={{ l: 47.3, t: 12.3, r: 323.3, b: 113.2 }}
        series={[
          { data: pairs(B_RED, 1, 1), color: RED, r: 3 },
          { data: zeros(B_RED_ZERO_X, 1), color: RED, r: 3 },
          { data: pairs(B_BLUE, 1, 1), color: BLUE, r: 3 },
        ]} />
      <ScatterPanel {...bcBase} left={345} top={140} width={345} labelOffset={-10}
        area={{ l: 51.7, t: 12.7, r: 327.3, b: 113.3 }}
        series={[
          { data: pairs(C_RED, 1, 1), color: RED, r: 3 },
          { data: pairs(C_BLUE, 1, 1), color: BLUE, r: 3 },
        ]} />
      <ScatterPanel left={0} top={320} width={690} height={145} labelOffset={0}
        area={{ l: 49, t: 10, r: 672.7, b: 116 }}
        xMin={6000} xMax={571000} xTicks={D1_X_TICKS} yMax={1.2}
        tickSize={15} tickLen={6} xPad={1} yPad={1}
        series={[
          { data: pairs(D1_RED, 1000, 0.01), color: RED, r: DR },
          { data: pairs(D1_RED_MORE, 1000, 0.01), color: RED, r: DR },
          { data: zeros(D1_RED_ZERO_KB, 1000), color: RED, r: DR },
          { data: pairs(D1_BLUE, 1000, 0.01), color: BLUE, r: DR },
        ]} />
      <ScatterPanel left={0} top={490} width={690} height={145} labelOffset={0}
        area={{ l: 49, t: 11.7, r: 672.7, b: 117.3 }}
        xMin={10000} xMax={920000} xTicks={D2_X_TICKS} yMax={1.2}
        tickSize={15} tickLen={6} xPad={1} yPad={1}
        series={[
          { data: pairs(D2_RED, 1000, 0.01), color: RED, r: DR },
          { data: pairs(D2_RED_MORE, 1000, 0.01), color: RED, r: DR },
          { data: pairs(D2_BLUE, 1000, 0.01), color: BLUE, r: DR },
          { data: pairs(D2_BLUE_MORE, 1000, 0.01), color: BLUE, r: DR },
          { data: zeros(D2_BLUE_ZERO_KB, 1000), color: BLUE, r: DR },
        ]} />
      <DiagramAndLabels />
    </div>
  );
}
